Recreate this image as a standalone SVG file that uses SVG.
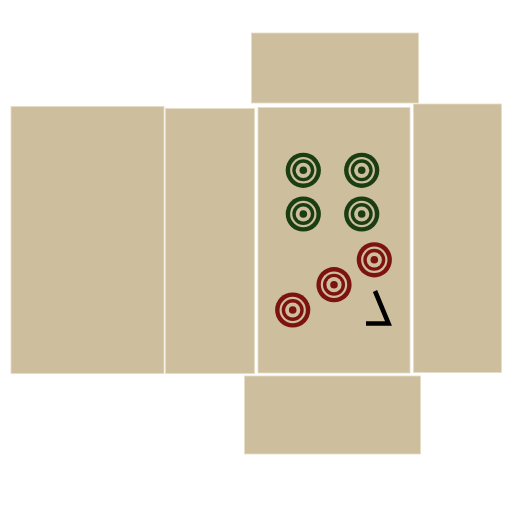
<svg xmlns="http://www.w3.org/2000/svg" width="512" height="512" viewBox="0 0 512 512">
<style>
.t{fill:#cdbf9d;stroke:#e6dcc6;stroke-width:0.8}
.g{fill:#1a3d12}
.r{fill:#7c1212}
.b{fill:#cdbf9d}
</style>
<defs>
<g id="pin">
<circle r="17.6"/>
<circle r="13.2" class="b"/>
<circle r="11"/>
<circle r="7.6" class="b"/>
<circle r="3.8"/>
</g>
</defs>
<rect width="512" height="512" fill="#fff"/>
<g id="top"><rect class="t" x="251.5" y="33" width="167" height="70"/></g>
<g id="left"><rect class="t" x="11" y="106.5" width="153" height="267"/></g>
<g id="left2"><rect class="t" x="165.5" y="108.5" width="89" height="265"/></g>
<g id="center"><rect class="t" x="258" y="107.5" width="152" height="265.5"/></g>
<g id="right"><rect class="t" x="413.5" y="104" width="88" height="268.5"/></g>
<g id="bottom"><rect class="t" x="244.5" y="376" width="176" height="78"/></g>
<g id="pins">
<use href="#pin" x="303.3" y="170.3" class="g"/>
<use href="#pin" x="361.7" y="170.3" class="g"/>
<use href="#pin" x="303.3" y="214" class="g"/>
<use href="#pin" x="361.7" y="214" class="g"/>
<use href="#pin" x="374.3" y="259.8" class="r"/>
<use href="#pin" x="334" y="284.7" class="r"/>
<use href="#pin" x="292.7" y="310" class="r"/>
</g>
<path id="seven" d="M375,291 L388.5,323.5 L366,323.5" fill="none" stroke="#000" stroke-width="4.6"/>
</svg>
